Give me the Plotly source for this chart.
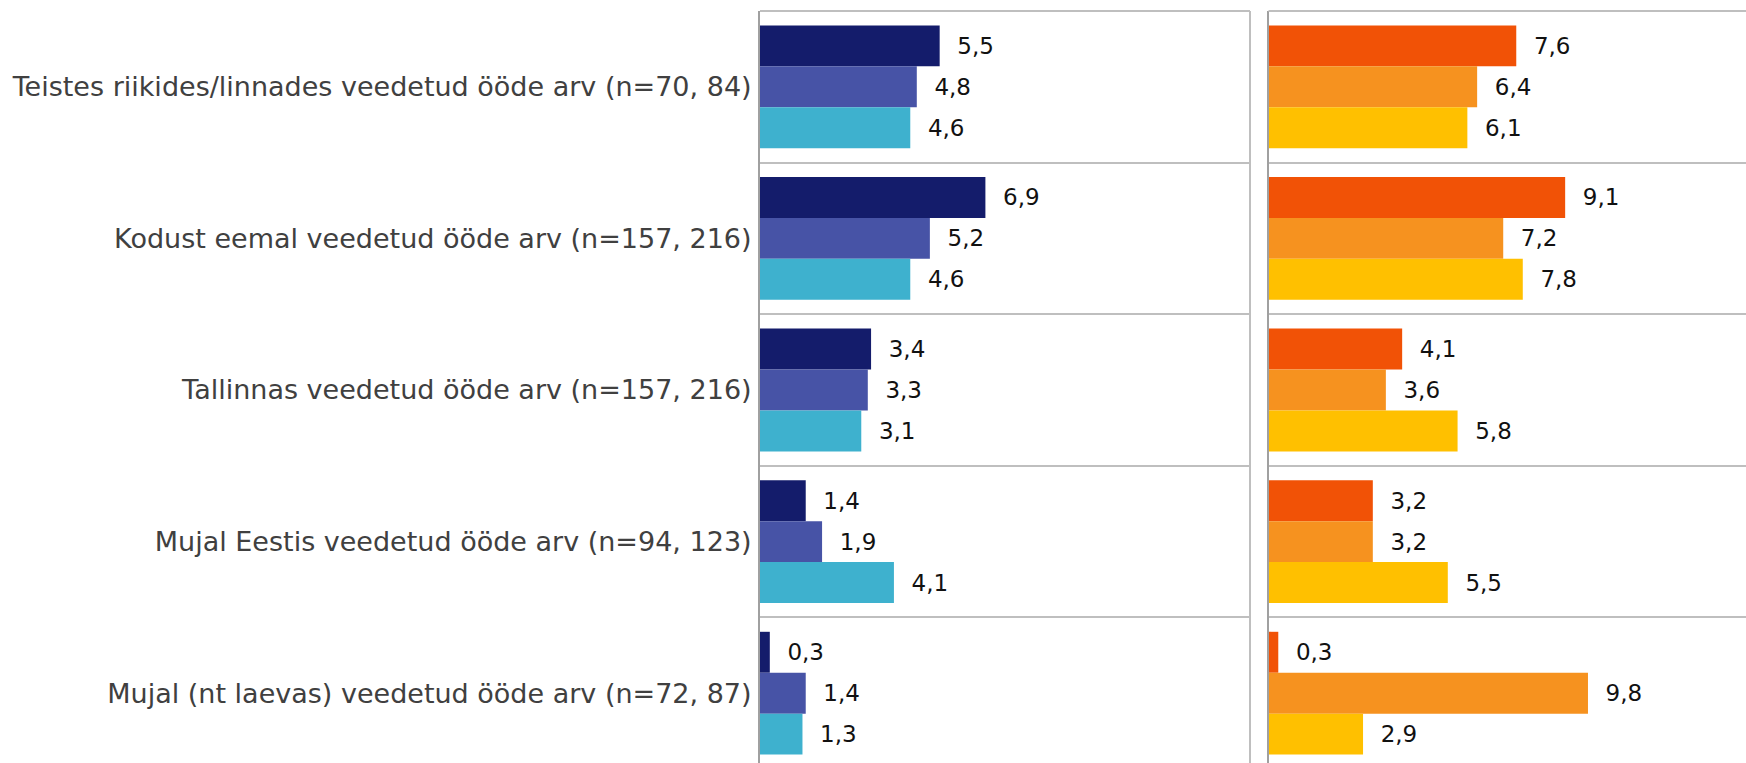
import plotly.graph_objects as go

categories = [
    "Teistes riikides/linnades veedetud ööde arv (n=70, 84)",
    "Kodust eemal veedetud ööde arv (n=157, 216)",
    "Tallinnas veedetud ööde arv (n=157, 216)",
    "Mujal Eestis veedetud ööde arv (n=94, 123)",
    "Mujal (nt laevas) veedetud ööde arv (n=72, 87)",
]

left_series_names = ["Vasak 1", "Vasak 2", "Vasak 3"]
left_values = [
    [5.5, 6.9, 3.4, 1.4, 0.3],
    [4.8, 5.2, 3.3, 1.9, 1.4],
    [4.6, 4.6, 3.1, 4.1, 1.3],
]
left_colors = ["#141C6B", "#4753A6", "#3EB1CE"]

right_series_names = ["Parem 1", "Parem 2", "Parem 3"]
right_values = [
    [7.6, 9.1, 4.1, 3.2, 0.3],
    [6.4, 7.2, 3.6, 3.2, 9.8],
    [6.1, 7.8, 5.8, 5.5, 2.9],
]
right_colors = ["#F15206", "#F6921F", "#FFC000"]

W, H = 1746, 763
FONT = "DejaVu Sans"

fig = go.Figure()

for name, vals, col in zip(left_series_names, left_values, left_colors):
    fig.add_trace(go.Bar(
        name=name, y=categories, x=vals, orientation="h",
        marker=dict(color=col, line=dict(width=0)),
        texttemplate="\u00a0\u00a0%{x:.1f}", textposition="outside",
        textfont=dict(family=FONT, size=23, color="#111111"),
        constraintext="none", cliponaxis=False,
        xaxis="x", yaxis="y", showlegend=False, hoverinfo="skip",
    ))

for name, vals, col in zip(right_series_names, right_values, right_colors):
    fig.add_trace(go.Bar(
        name=name, y=categories, x=vals, orientation="h",
        marker=dict(color=col, line=dict(width=0)),
        texttemplate="\u00a0\u00a0%{x:.1f}", textposition="outside",
        textfont=dict(family=FONT, size=23, color="#111111"),
        constraintext="none", cliponaxis=False,
        xaxis="x2", yaxis="y2", showlegend=False, hoverinfo="skip",
    ))

grid_col = "#BFBFBF"
axis_col = "#A0A0A0"
ytop = 1 - 11 / H
ybottom_range = -0.5 + (H - 11) / 151.6

yaxis_common = dict(
    type="category", categoryorder="array", categoryarray=categories,
    range=[ybottom_range, -0.5], domain=[0, ytop],
    tickson="boundaries", showgrid=True, gridcolor=grid_col, gridwidth=2,
    showline=True, linecolor=axis_col, linewidth=2,
    zeroline=False, ticks="",
)

fig.update_layout(
    width=W, height=H,
    margin=dict(l=0, r=0, t=0, b=0, autoexpand=False),
    paper_bgcolor="white", plot_bgcolor="white",
    barmode="group", bargap=0.19, bargroupgap=0,
    separators=", ",
    font=dict(family=FONT),
    xaxis=dict(domain=[760 / W, 1250 / W], range=[0, 15], showgrid=False,
               zeroline=False, showticklabels=False, showline=False),
    xaxis2=dict(domain=[1268.5 / W, 1.0], range=[0, (W - 1268.5) / 32.6],
                showgrid=False, zeroline=False, showticklabels=False, showline=False),
    yaxis=dict(**yaxis_common, anchor="x",
               tickfont=dict(family=FONT, size=27, color="#404040"),
               ticklabelstandoff=1),
    yaxis2=dict(**yaxis_common, anchor="x2", showticklabels=False),
)

# panel frame: top border on both panels, right border of left panel
for xr in ["x", "x2"]:
    fig.add_shape(type="line", xref=f"{xr} domain", yref="y domain",
                  x0=0, x1=1, y0=1, y1=1, line=dict(color=grid_col, width=2))
fig.add_shape(type="line", xref="x domain", yref="y domain",
              x0=1, x1=1, y0=0, y1=1, line=dict(color=grid_col, width=2))

fig.write_html(
    "out.html",
    config={"displayModeBar": False},
    post_script="document.body.style.margin='0';document.body.style.overflow='hidden';",
)
